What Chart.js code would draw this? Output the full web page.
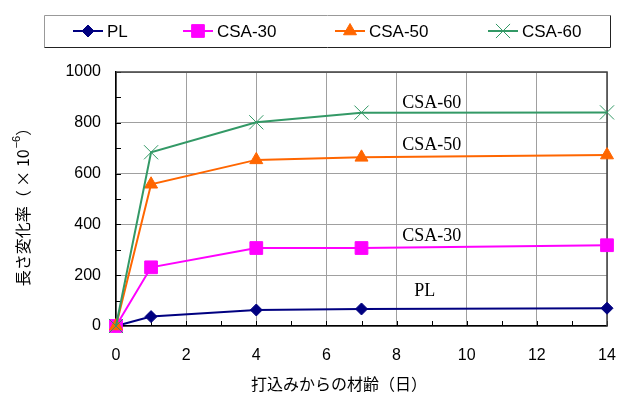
<!DOCTYPE html>
<html>
<head>
<meta charset="utf-8">
<script src="https://cdn.jsdelivr.net/npm/chart.js@4/dist/chart.umd.min.js"></script>
<style>
  html, body { margin: 0; padding: 0; background: #fff; }
  canvas { display: block; }
</style>
</head>
<body>
<canvas id="c" width="618" height="395"></canvas>
<script>
// Age after casting (days)
const days = [0, 1, 4, 7, 14];

// Length change (×10^-6) per mix
const seriesNames = ['PL', 'CSA-30', 'CSA-50', 'CSA-60'];
const plValues    = [0, 37, 63, 67, 70];
const csa30Values = [0, 231, 307, 307, 318];
const csa50Values = [0, 558, 654, 664, 673];
const csa60Values = [0, 684, 802, 840, 841];

// Axis ranges and steps
const xRange = [0, 14];
const xStep = 2;
const yRange = [0, 1000];
const yStep = 200;

// Axis titles; the y title carries a superscript exponent
const xTitle = '打込みからの材齢（日）';
const yTitleParts = ['長さ変化率（ × 10', '−6', '）'];

const seriesValues = [plValues, csa30Values, csa50Values, csa60Values];

const seriesStyles = [
  { color: '#000080', pointStyle: 'rectRot',  radius: 6,   order: 4 },
  { color: '#FF00FF', pointStyle: 'rect',     radius: 9,   order: 3 },
  { color: '#FF6600', pointStyle: 'triangle', radius: 7.5, order: 2 },
  { color: '#339966', pointStyle: 'crossRot', radius: 10,  order: 1 }
];

const datasets = seriesNames.map((name, i) => {
  const st = seriesStyles[i];
  return {
    label: name,
    data: days.map((d, j) => ({ x: d, y: seriesValues[i][j] })),
    borderColor: st.color,
    backgroundColor: st.color,
    borderWidth: 2,
    pointStyle: st.pointStyle,
    pointRadius: st.radius,
    pointBorderColor: st.color,
    pointBackgroundColor: st.color,
    pointBorderWidth: 1,
    tension: 0,
    order: st.order,
    clip: false
  };
});

const JP_FONT = '"Noto Sans CJK JP", sans-serif';

// Inward tick marks plus dark top/right frame of the plot area
const framePlugin = {
  id: 'frame',
  beforeDatasetsDraw(chart) {
    const { ctx, chartArea: a, scales: { x, y } } = chart;
    ctx.save();
    ctx.strokeStyle = '#000';
    ctx.lineWidth = 1;
    ctx.beginPath();
    for (let v = yRange[0]; v <= yRange[1]; v += yStep / 2) {
      const py = Math.round(y.getPixelForValue(v)) + 0.5;
      ctx.moveTo(a.left, py);
      ctx.lineTo(a.left + 5, py);
    }
    for (let v = xRange[0]; v <= xRange[1]; v += xStep / 2) {
      const px = Math.round(x.getPixelForValue(v)) + 0.5;
      ctx.moveTo(px, a.bottom);
      ctx.lineTo(px, a.bottom - 5);
    }
    ctx.stroke();
    ctx.strokeStyle = '#404040';
    ctx.lineWidth = 1.5;
    ctx.beginPath();
    ctx.moveTo(a.left, a.top);
    ctx.lineTo(a.right, a.top);
    ctx.lineTo(a.right, a.bottom);
    ctx.stroke();
    ctx.restore();
  }
};

// Axis titles (the y title needs a raised exponent)
const axisTitlePlugin = {
  id: 'axisTitles',
  afterDraw(chart, args, opts) {
    const { ctx } = chart;
    ctx.save();
    ctx.fillStyle = '#000';
    ctx.textBaseline = 'middle';

    ctx.font = '16px ' + JP_FONT;
    ctx.textAlign = 'center';
    ctx.fillText(xTitle, opts.xTitleAt[0], opts.xTitleAt[1]);

    const mainFont = '16px ' + JP_FONT;
    const supFont = '11px "Liberation Sans", Arial, sans-serif';
    ctx.font = mainFont;
    const w0 = ctx.measureText(yTitleParts[0]).width;
    const w2 = ctx.measureText(yTitleParts[2]).width;
    ctx.font = supFont;
    const w1 = ctx.measureText(yTitleParts[1]).width + 1;
    const total = w0 + w1 + w2;

    ctx.translate(opts.yTitleAt[0], opts.yTitleAt[1]);
    ctx.rotate(-Math.PI / 2);
    ctx.textAlign = 'left';
    let pos = -total / 2;
    ctx.font = mainFont;
    ctx.fillText(yTitleParts[0], pos, 0);
    pos += w0;
    ctx.font = supFont;
    ctx.fillText(yTitleParts[1], pos + 1, -6);
    pos += w1;
    ctx.font = mainFont;
    ctx.fillText(yTitleParts[2], pos, 0);
    ctx.restore();
  }
};

// Series names written beside each curve
const curveLabelPlugin = {
  id: 'curveLabels',
  afterDatasetsDraw(chart, args, opts) {
    const { ctx, scales: { x, y } } = chart;
    ctx.save();
    ctx.font = '18px "Liberation Serif", "Times New Roman", serif';
    ctx.fillStyle = '#000';
    ctx.textAlign = 'center';
    ctx.textBaseline = 'middle';
    opts.items.forEach(it => {
      ctx.fillText(it.text, x.getPixelForValue(it.x), y.getPixelForValue(it.y));
    });
    ctx.restore();
  }
};

// Boxed legend across the top, one line+marker sample per series
const boxLegendPlugin = {
  id: 'boxLegend',
  afterDraw(chart, args, opts) {
    const { ctx } = chart;
    const b = opts.box;
    ctx.save();
    ctx.lineWidth = 1;
    ctx.strokeStyle = '#999';
    ctx.beginPath();
    ctx.moveTo(b.left + 0.5, b.bottom + 0.5);
    ctx.lineTo(b.left + 0.5, b.top + 0.5);
    ctx.lineTo(b.right + 0.5, b.top + 0.5);
    ctx.stroke();
    ctx.strokeStyle = '#222';
    ctx.beginPath();
    ctx.moveTo(b.right + 0.5, b.top + 0.5);
    ctx.lineTo(b.right + 0.5, b.bottom + 0.5);
    ctx.lineTo(b.left + 0.5, b.bottom + 0.5);
    ctx.stroke();

    const cy = (b.top + b.bottom) / 2;
    chart.data.datasets.forEach((ds, i) => {
      const x0 = opts.starts[i];
      ctx.strokeStyle = ds.borderColor;
      ctx.lineWidth = 2;
      ctx.beginPath();
      ctx.moveTo(x0, cy);
      ctx.lineTo(x0 + opts.sampleWidth, cy);
      ctx.stroke();
      ctx.fillStyle = ds.pointBackgroundColor;
      ctx.strokeStyle = ds.pointBorderColor;
      ctx.lineWidth = ds.pointBorderWidth;
      Chart.helpers.drawPoint(ctx, {
        pointStyle: ds.pointStyle,
        radius: ds.pointRadius,
        rotation: 0,
        borderWidth: ds.pointBorderWidth
      }, x0 + opts.sampleWidth / 2, cy);
      ctx.fillStyle = '#000';
      ctx.font = '17px "Liberation Sans", Arial, sans-serif';
      ctx.textAlign = 'left';
      ctx.textBaseline = 'middle';
      ctx.fillText(ds.label, x0 + opts.sampleWidth + 4, cy + 1);
    });
    ctx.restore();
  }
};

new Chart(document.getElementById('c'), {
  type: 'line',
  data: { datasets },
  plugins: [framePlugin, curveLabelPlugin, axisTitlePlugin, boxLegendPlugin],
  options: {
    responsive: false,
    animation: false,
    events: [],
    layout: { padding: { top: 72, right: 10, left: 0, bottom: 0 } },
    plugins: {
      legend: { display: false },
      tooltip: { enabled: false },
      curveLabels: {
        items: [
          { text: 'CSA-60', x: 9.0, y: 878 },
          { text: 'CSA-50', x: 9.0, y: 713 },
          { text: 'CSA-30', x: 9.0, y: 354 },
          { text: 'PL',     x: 8.8, y: 138 }
        ]
      },
      axisTitles: {
        xTitleAt: [339, 384],
        yTitleAt: [23, 203]
      },
      boxLegend: {
        box: { left: 44, top: 15, right: 610, bottom: 47 },
        starts: [73, 183, 335, 488],
        sampleWidth: 30
      }
    },
    scales: {
      x: {
        type: 'linear',
        min: xRange[0],
        max: xRange[1],
        ticks: {
          stepSize: xStep,
          color: '#000',
          padding: 20,
          maxRotation: 0,
          font: { family: '"Liberation Sans", Arial, sans-serif', size: 16 },
          callback: v => String(v)
        },
        grid: { color: '#a0a0a0', lineWidth: 1, drawTicks: false },
        border: { color: '#000', width: 1.5 },
        title: { display: false },
        afterFit(scale) {
          scale.height = 69;
          scale.paddingLeft = 0;
          scale.paddingRight = 0;
        }
      },
      y: {
        type: 'linear',
        min: yRange[0],
        max: yRange[1],
        ticks: {
          stepSize: yStep,
          color: '#000',
          padding: 15,
          font: { family: '"Liberation Sans", Arial, sans-serif', size: 16 },
          callback: v => String(v)
        },
        grid: { color: '#a0a0a0', lineWidth: 1, drawTicks: false },
        border: { color: '#000', width: 1.5 },
        title: { display: false },
        afterFit(scale) {
          scale.width = 116;
          scale.paddingTop = 0;
          scale.paddingBottom = 0;
        }
      }
    }
  }
});
</script>
</body>
</html>
